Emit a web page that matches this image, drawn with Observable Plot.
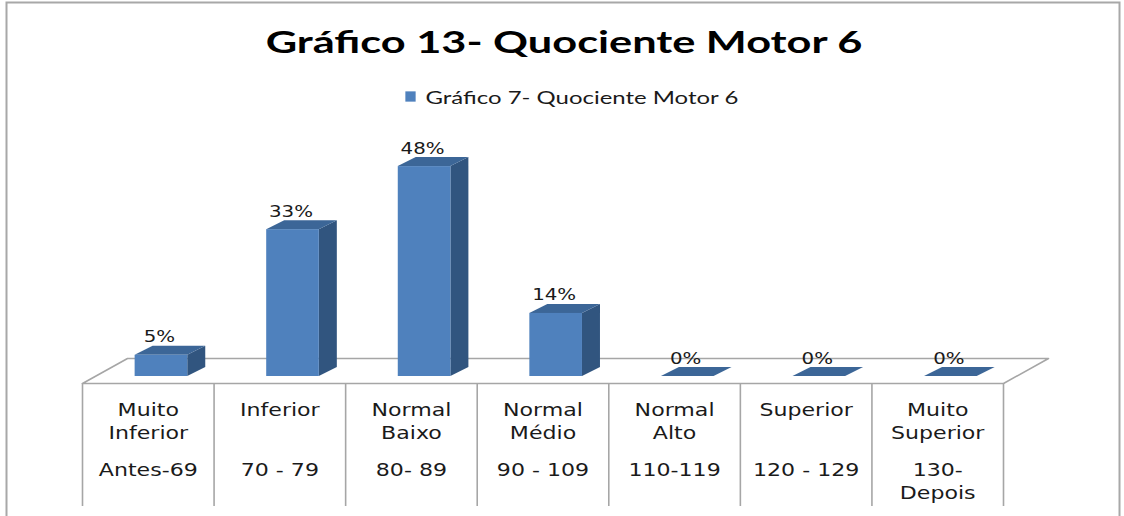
<!DOCTYPE html>
<html>
<head>
<meta charset="utf-8">
<script src="https://cdn.jsdelivr.net/npm/d3@7"></script>
<script src="https://cdn.jsdelivr.net/npm/@observablehq/plot@0.6"></script>
<style>
  html, body { margin: 0; padding: 0; background: #fff; }
  #chart svg { display: block; }
</style>
</head>
<body>
<div id="chart"></div>
<script>
// ---- data ----
const chartTitle = "Gráfico 13- Quociente Motor 6";
const seriesName = "Gráfico 7- Quociente Motor 6";
const categories = ["Muito\nInferior", "Inferior", "Normal\nBaixo", "Normal\nMédio", "Normal\nAlto", "Superior", "Muito\nSuperior"];
const ranges = ["Antes-69", "70 - 79", "80- 89", "90 - 109", "110-119", "120 - 129", "130-\nDepois"];
const values = [4.8, 33.3, 47.6, 14.3, 0, 0, 0];
const valueLabels = values.map(v => Math.round(v) + "%");

// ---- styling / layout constants ----
const FRONT = "#4f81bd", TOP = "#3c6697", SIDE = "#31557f", GRID = "#a6a6a6";
const X0 = 82, X1 = 1003, Y0 = 376, PX = 4.41;       // pixel frame of the category axis
const unitX = (X1 - X0) / categories.length;
const BAR_L = 0.4, BAR_R = 0.8;                      // bar position within a category slot
const BAR_DX = 18 / unitX, BAR_DY = 9 / PX;          // 3D depth of bars
const FLOOR_DX = 45 / unitX, FLOOR_FRONT = -7 / PX, FLOOR_BACK = 18 / PX, TABLE_BOTTOM = -130 / PX;

const rows = categories.map((c, i) => ({i, c, r: ranges[i], v: values[i], label: valueLabels[i]}));
const n = categories.length;

const floor = [
  {x: 0, y: FLOOR_FRONT}, {x: n, y: FLOOR_FRONT},
  {x: n + FLOOR_DX, y: FLOOR_BACK}, {x: FLOOR_DX, y: FLOOR_BACK},
  {x: 0, y: FLOOR_FRONT}
];
const sides = rows.flatMap(d => [
  {i: d.i, x: d.i + BAR_R, y1: 0, y2: d.v},
  {i: d.i, x: d.i + BAR_R + BAR_DX, y1: BAR_DY, y2: d.v + BAR_DY}
]);
const tops = rows.flatMap(d => [
  {i: d.i, y: d.v, x1: d.i + BAR_L, x2: d.i + BAR_R},
  {i: d.i, y: d.v + BAR_DY, x1: d.i + BAR_L + BAR_DX, x2: d.i + BAR_R + BAR_DX}
]);

const plot = Plot.plot({
  width: 1124,
  height: 516,
  margin: 0,
  style: {background: "white", overflow: "visible"},
  x: {domain: [0, n], range: [X0, X1], axis: null},
  y: {domain: [0, 50], range: [Y0, Y0 - 50 * PX], axis: null},
  marks: [
    Plot.frame({stroke: "#a8a8a8", strokeWidth: 2, insetLeft: 6, insetTop: 2, insetRight: 5, insetBottom: -10}),
    Plot.line(floor, {x: "x", y: "y", stroke: GRID, strokeWidth: 1.6}),
    Plot.ruleX(d3.range(n + 1), {y1: FLOOR_FRONT, y2: TABLE_BOTTOM, stroke: GRID, strokeWidth: 1.6}),
    Plot.areaY(sides, {x: "x", y1: "y1", y2: "y2", z: "i", fill: SIDE}),
    Plot.areaX(tops, {y: "y", x1: "x1", x2: "x2", z: "i", fill: TOP}),
    Plot.rect(rows, {x1: d => d.i + BAR_L, x2: d => d.i + BAR_R, y1: 0, y2: "v", fill: FRONT}),
    Plot.text(rows, {x: d => d.i + (BAR_L + BAR_R) / 2, y: "v", text: "label", dx: -2, dy: -13,
      lineAnchor: "bottom", fontFamily: "DejaVu Sans", fontSize: 16.5, fill: "#1a1a1a", ariaDescription: "value-labels"}),
    Plot.text(rows, {x: d => d.i + 0.5, y: 0, text: "c", dy: 22.7, lineAnchor: "top", lineHeight: 23 / 17,
      fontFamily: "DejaVu Sans", fontSize: 17, fill: "#1a1a1a", ariaDescription: "cat-labels"}),
    Plot.text(rows, {x: d => d.i + 0.5, y: 0, text: "r", dy: 82.7, lineAnchor: "top", lineHeight: 23 / 17,
      fontFamily: "DejaVu Sans", fontSize: 17, fill: "#1a1a1a", ariaDescription: "range-labels"}),
    Plot.text([chartTitle], {frameAnchor: "top", lineAnchor: "bottom", text: d => d, dx: 1.5, dy: 52,
      fontFamily: "Lato", fontWeight: 700, fontSize: 31, fill: "#000", ariaDescription: "title"}),
    Plot.dot([seriesName], {frameAnchor: "top-left", dx: 410, dy: 96, symbol: "square", r: 5.8, fill: FRONT, stroke: "none"}),
    Plot.text([seriesName], {frameAnchor: "top-left", lineAnchor: "bottom", text: d => d, dx: 425, dy: 103, textAnchor: "start",
      fontFamily: "Lato", fontSize: 18, fill: "#1a1a1a", ariaDescription: "legend"})
  ]
});

document.getElementById("chart").appendChild(plot);

function groupTexts(label) {
  return plot.querySelectorAll(`g[aria-description="${label}"] text`);
}
function stretch(label, f) {
  groupTexts(label).forEach(t => {
    t.setAttribute("transform", (t.getAttribute("transform") || "") + ` scale(${f},1)`);
  });
}
function fitWidth(label, target) {
  groupTexts(label).forEach(t => {
    const w = t.getComputedTextLength();
    if (w > 0) t.setAttribute("transform", (t.getAttribute("transform") || "") + ` scale(${target / w},1)`);
  });
}
stretch("value-labels", 1.2);
stretch("cat-labels", 1.3);
stretch("range-labels", 1.3);
fitWidth("title", 597);
fitWidth("legend", 313);
</script>
</body>
</html>
